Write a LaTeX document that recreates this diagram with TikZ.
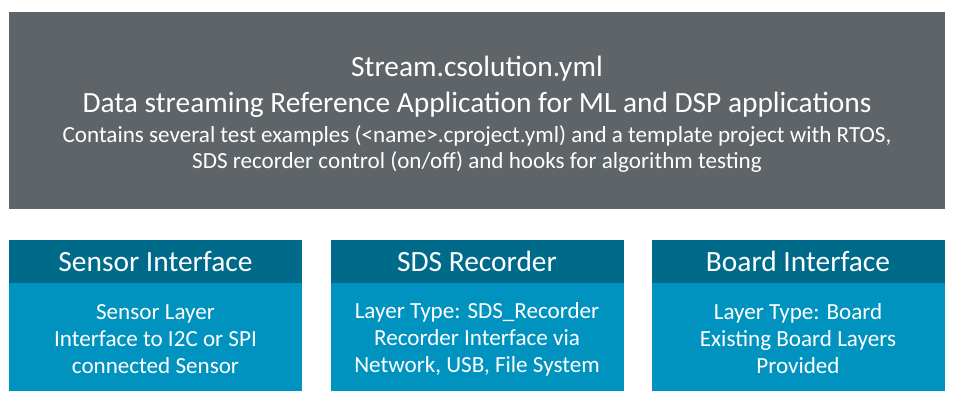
\documentclass[tikz,border=0pt]{standalone}
\usepackage{fontspec}
\setmainfont{Carlito}

\definecolor{solgray}{HTML}{5E6468}
\definecolor{layerhead}{HTML}{006A8A}
\definecolor{layerbody}{HTML}{0093BF}

\tikzset{
  solution/.style = {fill=solgray, minimum width=936, minimum height=197, inner sep=0pt},
  bigline/.style = {text=white, inner sep=0pt, anchor=base, font=\fontsize{29.4}{33}\selectfont},
  smallline/.style = {text=white, inner sep=0pt, anchor=base, font=\fontsize{23.1}{26}\selectfont},
  layerhead/.style = {fill=layerhead, text=white, minimum width=293, minimum height=43,
    inner sep=0pt, font=\fontsize{29.4}{33}\selectfont},
  layerbody/.style = {fill=layerbody, minimum width=293, minimum height=108, inner sep=0pt},
  layertext/.style = {text=white, inner sep=0pt, align=center, font=\fontsize{23.1}{27}\selectfont},
}

\begin{document}
\begin{tikzpicture}[x=1pt, y=1pt]
  \useasboundingbox (0,0) rectangle (954,401);

  % solution box
  \node[solution] (sol) at (477,290.5) {};
  \node[bigline] (solname) at (477,324) {Stream.csolution.yml};
  \node[bigline] (soltitle) at (477,288.5) {Data streaming Reference Application for ML and DSP applications};
  \node[smallline] (soldesc1) at (477,258) {Contains several test examples (<name>.cproject.yml) and a template project with RTOS,};
  \node[smallline] (soldesc2) at (477,232) {SDS recorder control (on/off) and hooks for algorithm testing};

  % layers
  \node[layerhead] (sensorhead) at (155.5,139.5) {Sensor Interface};
  \node[layerbody] (sensorbody) at (155.5,64) {};
  \node[layertext] (sensortext) at (155.5,62) {Sensor Layer\\Interface to I2C or SPI\\connected Sensor};

  \node[layerhead] (sdshead) at (477,139.5) {SDS Recorder};
  \node[layerbody] (sdsbody) at (477,64) {};
  \node[layertext] (sdstext) at (477,62) {Layer Type: SDS\_Recorder\\Recorder Interface via\\Network, USB, File System};

  \node[layerhead] (boardhead) at (798,139.5) {Board Interface};
  \node[layerbody] (boardbody) at (798,64) {};
  \node[layertext] (boardtext) at (798,62) {Layer Type: Board\\Existing Board Layers\\Provided};
\end{tikzpicture}
\end{document}
